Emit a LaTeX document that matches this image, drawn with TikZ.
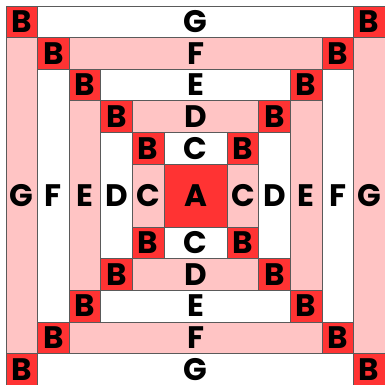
\documentclass[tikz,border=0pt]{standalone}
\usepackage{fontspec}
\setmainfont{Poppins}
\usetikzlibrary{positioning}

\definecolor{blockred}{HTML}{FF3333}
\definecolor{strippink}{HTML}{FFC4C4}
\definecolor{tileline}{HTML}{5A5A5A}

\begin{document}
\begin{tikzpicture}[
    every node/.style={font=\fontsize{28}{28}\selectfont\bfseries},
    tile/.style={draw=tileline, line width=0.6pt, inner sep=0pt, outer sep=0pt, minimum size=1cm},
    redtile/.style={tile, fill=blockred},
    pinktile/.style={tile, fill=strippink},
    whitetile/.style={tile, fill=white}
]
\useasboundingbox (-6.19,-6.0) rectangle (6.0,6.19);

% Centre square
\node[redtile, minimum size=2cm] (A) at (0,0) {A};

% Ring C
\node[whitetile, minimum width=2cm] (Ct) at (0,1.5)  {C};
\node[whitetile, minimum width=2cm] (Cb) at (0,-1.5) {C};
\node[pinktile, minimum height=2cm] (Cl) at (-1.5,0) {C};
\node[pinktile, minimum height=2cm] (Cr) at (1.5,0)  {C};
\node[redtile] (Bcnw) at (-1.5,1.5)  {B};
\node[redtile] (Bcne) at (1.5,1.5)   {B};
\node[redtile] (Bcsw) at (-1.5,-1.5) {B};
\node[redtile] (Bcse) at (1.5,-1.5)  {B};

% Ring D
\node[pinktile, minimum width=4cm] (Dt) at (0,2.5)  {D};
\node[pinktile, minimum width=4cm] (Db) at (0,-2.5) {D};
\node[whitetile, minimum height=4cm] (Dl) at (-2.5,0) {D};
\node[whitetile, minimum height=4cm] (Dr) at (2.5,0)  {D};
\node[redtile] (Bdnw) at (-2.5,2.5)  {B};
\node[redtile] (Bdne) at (2.5,2.5)   {B};
\node[redtile] (Bdsw) at (-2.5,-2.5) {B};
\node[redtile] (Bdse) at (2.5,-2.5)  {B};

% Ring E
\node[whitetile, minimum width=6cm] (Et) at (0,3.5)  {E};
\node[whitetile, minimum width=6cm] (Eb) at (0,-3.5) {E};
\node[pinktile, minimum height=6cm] (El) at (-3.5,0) {E};
\node[pinktile, minimum height=6cm] (Er) at (3.5,0)  {E};
\node[redtile] (Benw) at (-3.5,3.5)  {B};
\node[redtile] (Bene) at (3.5,3.5)   {B};
\node[redtile] (Besw) at (-3.5,-3.5) {B};
\node[redtile] (Bese) at (3.5,-3.5)  {B};

% Ring F
\node[pinktile, minimum width=8cm] (Ft) at (0,4.5)  {F};
\node[pinktile, minimum width=8cm] (Fb) at (0,-4.5) {F};
\node[whitetile, minimum height=8cm] (Fl) at (-4.5,0) {F};
\node[whitetile, minimum height=8cm] (Fr) at (4.5,0)  {F};
\node[redtile] (Bfnw) at (-4.5,4.5)  {B};
\node[redtile] (Bfne) at (4.5,4.5)   {B};
\node[redtile] (Bfsw) at (-4.5,-4.5) {B};
\node[redtile] (Bfse) at (4.5,-4.5)  {B};

% Ring G
\node[whitetile, minimum width=10cm] (Gt) at (0,5.5)  {G};
\node[whitetile, minimum width=10cm] (Gb) at (0,-5.5) {G};
\node[pinktile, minimum height=10cm] (Gl) at (-5.5,0) {G};
\node[pinktile, minimum height=10cm] (Gr) at (5.5,0)  {G};
\node[redtile] (Bgnw) at (-5.5,5.5)  {B};
\node[redtile] (Bgne) at (5.5,5.5)   {B};
\node[redtile] (Bgsw) at (-5.5,-5.5) {B};
\node[redtile] (Bgse) at (5.5,-5.5)  {B};

\end{tikzpicture}
\end{document}
